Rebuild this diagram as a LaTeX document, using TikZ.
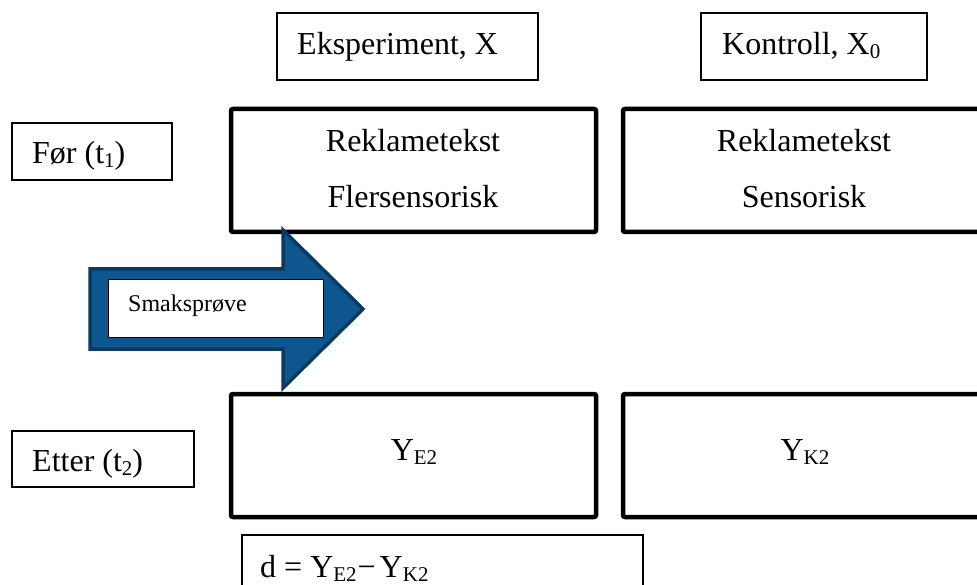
\documentclass[tikz,border=0pt]{standalone}
\usepackage{fontspec}
\setmainfont{Liberation Serif}
\definecolor{arrowblue}{RGB}{14,86,142}
\definecolor{arrowdark}{RGB}{10,58,98}
\newcommand\mysub[1]{\raisebox{-4pt}{\fontsize{21}{21}\selectfont #1}}
\tikzset{
  thinbox/.style={draw=black, line width=1.2pt, fill=white, inner sep=0pt, outer sep=0pt, anchor=north west},
  thickbox/.style={draw=black, line width=4.5pt, rounded corners=2pt, fill=white, inner sep=0pt, outer sep=0pt, anchor=north west},
  lbl/.style={inner sep=0pt, font=\fontsize{32}{38}\selectfont},
  small/.style={inner sep=0pt, font=\fontsize{24}{28}\selectfont},
}
\begin{document}
\begin{tikzpicture}[x=1pt, y=-1pt]
\clip (0,0) rectangle (977,585);
\fill[white] (0,0) rectangle (977,585);

% column headers
\node[thinbox, minimum width=261, minimum height=67] (eks) at (277,13) {};
\node[lbl, anchor=base west] (eksT) at (297,55) {Eksperiment, X};
\node[thinbox, minimum width=226, minimum height=67] (kon) at (701,13) {};
\node[lbl, anchor=base west] (konT) at (722,55) {Kontroll, X\mysub{0}};

% row labels
\node[thinbox, minimum width=160, minimum height=57] (for) at (12,123) {};
\node[lbl, anchor=base west] (forT) at (32,164) {Før (t\mysub{1})};
\node[thinbox, minimum width=182, minimum height=56] (etter) at (12,431) {};
\node[lbl, anchor=base west] (etterT) at (32,471) {Etter (t\mysub{2})};

% before boxes
\node[thickbox, minimum width=365, minimum height=123] (rekE) at (231,109) {};
\node[lbl, anchor=base] (rekE1) at (413,152) {Reklametekst};
\node[lbl, anchor=base] (rekE2) at (413,208) {Flersensorisk};
\node[thickbox, minimum width=370, minimum height=123] (rekK) at (623,109) {};
\node[lbl, anchor=base] (rekK1) at (804,152) {Reklametekst};
\node[lbl, anchor=base] (rekK2) at (804,208) {Sensorisk};

% after boxes
\node[thickbox, minimum width=365, minimum height=123] (yE) at (231,394) {};
\node[lbl, anchor=base] (yET) at (414,460) {Y\mysub{E2}};
\node[thickbox, minimum width=370, minimum height=123] (yK) at (623,394) {};
\node[lbl, anchor=base] (yKT) at (805,460) {Y\mysub{K2}};

% difference box
\node[thinbox, minimum width=401, minimum height=80] (dbox) at (242,535) {};
\node[lbl, anchor=base west] (dT) at (260,577) {d = Y\mysub{E2}\kern1pt−\kern4pt Y\mysub{K2}};

% block arrow
\draw[fill=arrowblue, draw=arrowdark, line width=3.5pt, line join=miter]
  (90,269) -- (283,269) -- (283,230) -- (363,309) -- (283,388) -- (283,349) -- (90,349) -- cycle;
\node[thinbox, line width=1pt, minimum width=215, minimum height=57] (smak) at (108,280) {};
\node[small, anchor=base west] (smakT) at (128,312) {Smaksprøve};
\end{tikzpicture}
\end{document}
